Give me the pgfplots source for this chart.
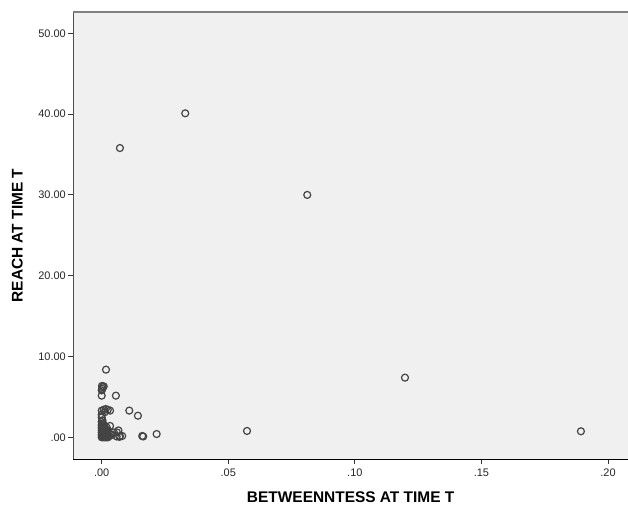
\documentclass[border=0pt]{standalone}
\usepackage{fontspec}
\setmainfont{Liberation Sans}
\usepackage{pgfplots}
\pgfplotsset{compat=1.18}
\definecolor{plotbg}{HTML}{F0F0F0}
\definecolor{mk}{HTML}{444444}
\begin{document}
\begin{tikzpicture}
\path[use as bounding box] (0,0) rectangle (628bp,508bp);
\begin{axis}[
  at={(73.3bp,49bp)}, anchor=south west,
  scale only axis, width=554.7bp, height=447bp,
  xmin=-0.01122, xmax=0.2079, ymin=-2.69, ymax=52.64,
  axis x line*=bottom, axis y line*=left,
  x axis line style={draw=black, line width=1bp, -},
  y axis line style={draw=black!70, line width=1.4bp, -},
  axis background/.style={fill=plotbg},
  xtick={0,0.05,0.1,0.15,0.2},
  xticklabels={.00,.05,.10,.15,.20},
  ytick={0,10,20,30,40,50},
  yticklabels={.00,10.00,20.00,30.00,40.00,50.00},
  tick align=outside, major tick length=5bp,
  tick style={draw=black!80, line width=0.9bp},
  ticklabel style={font=\fontsize{11}{13}\selectfont, text=black!85},
  xticklabel style={yshift=-1bp},
  yticklabel style={xshift=1bp},
  every axis x label/.style={at={(rel axis cs:0.5,0)}, yshift=-38bp, anchor=center},
  every axis y label/.style={at={(rel axis cs:0,0.5)}, xshift=-56bp, rotate=90, anchor=center},
  label style={font=\fontsize{15.5}{17}\selectfont\bfseries},
  xlabel={BETWEENNTESS AT TIME T},
  ylabel={REACH AT TIME T},
  clip=false,
]
\draw[draw=black!50, line width=1.5bp] (rel axis cs:0,1) -- (rel axis cs:1,1);
\addplot[only marks, mark=o, mark size=3.5bp, mark options={draw=mk, line width=1.2bp}] coordinates {
(0.0330,40.1) (0.0072,35.8) (0.0812,30.0) (0.1198,7.38) (0.0574,0.78) (0.1893,0.74)
(0.0017,8.37)
(0.0001,6.35) (0.0004,6.2) (0.0008,6.3) (0.0002,6.0) (0.0000,5.8)
(0.0000,5.15) (0.0056,5.15)
(0.0000,3.3) (0.0008,3.4) (0.0016,3.5) (0.0024,3.4) (0.0033,3.3) (0.0012,3.1)
(0.0109,3.3) (0.0143,2.67) (0.0000,2.45)
(0.0000,1.9) (0.0005,1.7) (0.0033,1.4) (0.0010,1.5) (0.0020,1.2)
(0.0066,0.85) (0.0060,0.6) (0.0040,0.3) (0.0048,0.6)
(0.0059,0.1) (0.0072,0.15) (0.0081,0.16) (0.0070,0.05)
(0.0160,0.16) (0.0164,0.1) (0.0217,0.4)
(0.0000,0.0) (0.0005,0.0) (0.0010,0.0) (0.0015,0.0) (0.0020,0.0) (0.0025,0.0)
(0.0000,0.3) (0.0005,0.3) (0.0010,0.3) (0.0015,0.3) (0.0020,0.3) (0.0025,0.3)
(0.0000,0.6) (0.0005,0.6) (0.0010,0.6) (0.0015,0.6) (0.0020,0.6) (0.0028,0.6)
(0.0000,0.9) (0.0005,0.9) (0.0010,0.9) (0.0015,0.9) (0.0022,0.9)
(0.0000,1.2) (0.0006,1.2) (0.0012,1.1) (0.0000,1.5) (0.0003,2.1) (0.0000,2.8)
(0.0002,0.15) (0.0008,0.45) (0.0013,0.75) (0.0018,0.1) (0.0030,0.15)
(0.0003,0.05) (0.0007,0.2) (0.0012,0.1) (0.0017,0.4) (0.0022,0.2)
(0.0003,0.5) (0.0008,0.7) (0.0013,0.5) (0.0018,0.8) (0.0002,1.0)
(0.0007,1.0) (0.0012,0.9) (0.0004,1.35) (0.0009,1.3) (0.0002,1.7)
};
\end{axis}
\end{tikzpicture}
\end{document}
